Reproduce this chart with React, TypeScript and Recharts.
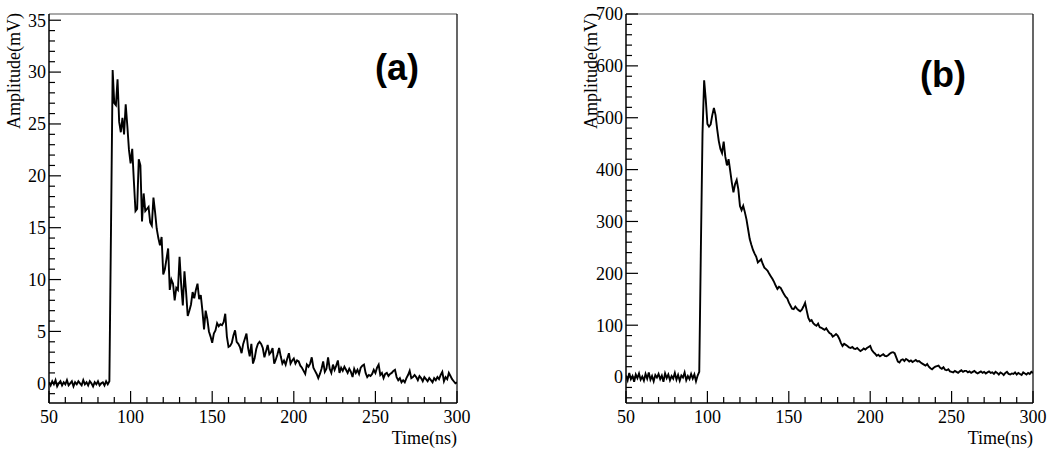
import React from "react";
import { LineChart, Line, XAxis, YAxis, ReferenceLine } from "recharts";

// sampling grid: 1 ns from 50 ns
const T0 = 50;

// panel (a) amplitude, mV
const ampA = [
  0.1, -0.2, 0.2, -0.1, 0.3, -0.3, 0.0, 0.2, -0.2, 0.1,
  -0.1, 0.3, -0.2, 0.0, 0.2, -0.3, 0.1, -0.1, 0.2, 0.0,
  -0.2, 0.3, -0.1, 0.1, -0.2, 0.2, 0.0, -0.3, 0.1, -0.1,
  0.2, -0.2, 0.0, 0.1, -0.2, 0.2, -0.1, 0.2, 15.0, 30.2,
  27.0, 26.8, 29.3, 25.2, 24.2, 25.6, 24.0, 26.9, 24.8, 22.5,
  21.2, 22.6, 19.5, 16.6, 16.8, 21.6, 21.0, 15.6, 18.3, 16.6,
  16.8, 17.0, 15.5, 15.2, 17.9, 16.5, 14.9, 14.0, 13.3, 14.1,
  10.5, 11.0, 12.0, 13.0, 9.0, 10.0, 9.6, 8.0, 9.2, 9.0,
  12.2, 9.5, 7.5, 10.8, 8.8, 6.5, 7.0, 7.6, 8.8, 8.2,
  9.0, 9.6, 8.1, 8.5, 7.0, 5.2, 7.0, 6.2, 5.0, 4.5,
  3.9, 4.8, 5.1, 5.8, 5.5, 5.7, 5.6, 5.9, 6.7, 4.5,
  3.5, 3.6, 3.9, 4.6, 5.1, 4.0, 3.8, 3.5, 2.9, 3.8,
  4.3, 4.8, 3.4, 2.6, 3.8, 1.9, 2.4, 3.3, 3.8, 4.0,
  3.8, 3.4, 2.5, 3.1, 3.7, 2.8, 3.0, 3.4, 1.9, 2.3,
  2.8, 3.4, 2.6, 1.9, 2.2, 1.8, 2.4, 2.9, 1.9, 2.2,
  2.4, 1.9, 2.2, 2.1, 1.7, 1.5, 1.2, 0.9, 1.8, 1.6,
  1.9, 2.5, 1.5, 1.2, 0.9, 0.5, 0.9, 1.4, 2.1, 1.1,
  1.4, 2.5, 1.4, 1.0, 1.8, 1.3, 1.7, 2.2, 1.0, 1.5,
  1.2, 1.6, 1.3, 1.0, 1.4, 1.1, 0.6, 1.4, 1.0, 1.3,
  0.9, 1.5, 1.7, 1.8, 1.0, 0.6, 0.8, 0.7, 0.9, 1.3,
  1.0, 1.5, 1.8, 0.8, 1.0, 0.5, 0.9, 1.0, 0.7, 0.9,
  1.0, 1.2, 1.3, 0.6, 0.3, 0.5, 0.1, 0.3, 0.1, 0.5,
  0.8, 1.2, 0.5, 0.6, 0.8, 0.6, 0.3, 0.7, 0.5, 0.2,
  0.6, 0.4, 0.2, 0.5, 0.3, 0.1, 0.5, 0.3, 0.6, 0.4,
  0.8, 1.1, 0.2, 0.6, 0.4, 1.0, 0.7, 0.4, 0.2, 0.0,
  0.1,
];

// panel (b) amplitude, mV
const ampB = [
  3, -6, 8, -4, 2, -9, 5, -2, 7, -5,
  1, -7, 6, -3, 9, -5, 2, -8, 4, -1,
  6, -4, 3, -9, 7, -2, 5, -6, 2, -3,
  8, -5, 4, -7, 3, -1, 9, -6, 2, -4,
  6, -3, 5, -8, 3, 10, 250, 470, 572, 535,
  488, 483, 487, 505, 519, 505, 478, 455, 440, 432,
  454, 425, 408, 420, 398, 375, 356, 372, 380, 362,
  330, 322, 330, 318, 304, 285, 266, 255, 245, 238,
  232, 221, 224, 227, 218, 211, 208, 205, 199, 194,
  189, 183, 176, 170, 174, 172, 166, 160, 155, 152,
  144, 138, 132, 131, 136, 132, 129, 127, 130, 136,
  143, 128, 114, 108, 110, 104, 101, 99, 103, 96,
  95, 93, 91, 94, 89, 85, 83, 78, 80, 83,
  80, 74, 66, 60, 64, 62, 60, 57, 56, 58,
  55, 54, 56, 53, 50, 52, 55, 53, 56, 58,
  60, 52, 48, 45, 41, 43, 40, 42, 44, 41,
  40, 42, 45, 47, 48, 46, 38, 30, 28, 33,
  34, 31, 35, 33, 30, 32, 29, 31, 33, 30,
  31, 28, 26, 24, 22, 25, 20, 17, 15, 18,
  20, 21, 22, 18, 16, 19, 14, 13, 15, 11,
  10, 9, 12, 10, 8, 11, 13, 10, 12, 12,
  9, 11, 8, 10, 12, 9, 7, 9, 11, 8,
  10, 7, 9, 11, 8, 9, 6, 10, 8, 5,
  9, 7, 4, 8, 10, 6, 5, 7, 6, 9,
  5, 8, 6, 4, 9, 7, 5, 8, 6, 10,
  8,
];

const xMajor = [50, 100, 150, 200, 250, 300];
const yMajorA = [0, 5, 10, 15, 20, 25, 30, 35];
const yMajorB = [0, 100, 200, 300, 400, 500, 600, 700];

const dataA = ampA.map((v, i) => ({ t: T0 + i, v }));
const dataB = ampB.map((v, i) => ({ t: T0 + i, v }));

const X_DOMAIN: [number, number] = [50, 300];
const Y_DOMAIN_A: [number, number] = [-1.9, 35.6];
const Y_DOMAIN_B: [number, number] = [-50, 700];

// minor ticks every 1/5 of a major step
function withMinor(major: number[], lo: number, hi: number) {
  const step = (major[1] - major[0]) / 5;
  const out: number[] = [];
  const start = Math.ceil(lo / step);
  for (let k = start; k * step <= hi + 1e-9; k++) out.push(+(k * step).toFixed(6));
  return out;
}

const SERIF = '"Liberation Serif", "DejaVu Serif", serif';
const serifText = { fontFamily: SERIF, fontSize: 18, fill: "#000" };

function XTick(props: any) {
  const { x, y, payload } = props;
  const major = xMajor.includes(payload.value);
  return (
    <g>
      <line x1={x} x2={x} y1={y} y2={y - (major ? 12 : 6)} stroke="#000" strokeWidth={1.2} />
      {major && (
        <text x={x} y={y + 20} textAnchor="middle" style={serifText}>
          {payload.value}
        </text>
      )}
    </g>
  );
}

function makeYTick(majors: number[]) {
  return (props: any) => {
    const { x, y, payload } = props;
    const major = majors.includes(payload.value);
    return (
      <g>
        <line x1={x} x2={x + (major ? 12 : 6)} y1={y} y2={y} stroke="#000" strokeWidth={1.2} />
        {major && (
          <text x={x - 3} y={y} dy="0.35em" textAnchor="end" style={serifText}>
            {payload.value}
          </text>
        )}
      </g>
    );
  };
}

function Panel({ data, yDomain, yMajor, yWidth, right, tag, tagX, tagY }: any) {
  return (
    <div style={{ position: "relative", width: 525, height: 449 }}>
      <LineChart width={525} height={449} data={data} margin={{ top: 14, right, bottom: 0, left: 0 }}>
        <XAxis
          dataKey="t"
          type="number"
          domain={X_DOMAIN}
          ticks={withMinor(xMajor, X_DOMAIN[0], X_DOMAIN[1])}
          interval={0}
          height={46}
          tickSize={0}
          tickMargin={0}
          tick={XTick}
          axisLine={{ stroke: "#000", strokeWidth: 1.5 }}
          allowDataOverflow
        />
        <YAxis
          type="number"
          domain={yDomain}
          ticks={withMinor(yMajor, yDomain[0], yDomain[1])}
          interval={0}
          width={yWidth}
          tickSize={0}
          tickMargin={0}
          tick={makeYTick(yMajor)}
          axisLine={{ stroke: "#000", strokeWidth: 1.5 }}
          allowDataOverflow
        />
        <ReferenceLine y={yDomain[1]} stroke="#555" strokeWidth={1.2} ifOverflow="visible" />
        <ReferenceLine x={X_DOMAIN[1]} stroke="#000" strokeWidth={1.2} ifOverflow="visible" />
        <Line
          type="linear"
          dataKey="v"
          stroke="#000"
          strokeWidth={1.9}
          dot={false}
          isAnimationActive={false}
        />
      </LineChart>
      <svg width={525} height={449} style={{ position: "absolute", left: 0, top: 0, pointerEvents: "none" }}>
        <text transform={`translate(${yWidth - 29},13) rotate(-90)`} textAnchor="end" style={serifText}>
          Amplitude(mV)
        </text>
        <text x={525 - right} y={444} textAnchor="end" style={serifText}>
          Time(ns)
        </text>
        <text
          x={tagX}
          y={tagY}
          style={{ fontFamily: '"Liberation Sans", Arial, sans-serif', fontWeight: "bold", fontSize: 36, fill: "#000" }}
        >
          {tag}
        </text>
      </svg>
    </div>
  );
}

export default function App() {
  return (
    <div style={{ position: "absolute", left: 0, top: 0, width: 1050, height: 449, background: "#fff", display: "flex" }}>
      <Panel data={dataA} yDomain={Y_DOMAIN_A} yMajor={yMajorA} yWidth={49} right={68} tag="(a)" tagX={375} tagY={80} />
      <Panel data={dataB} yDomain={Y_DOMAIN_B} yMajor={yMajorB} yWidth={101} right={17} tag="(b)" tagX={395} tagY={87} />
    </div>
  );
}
